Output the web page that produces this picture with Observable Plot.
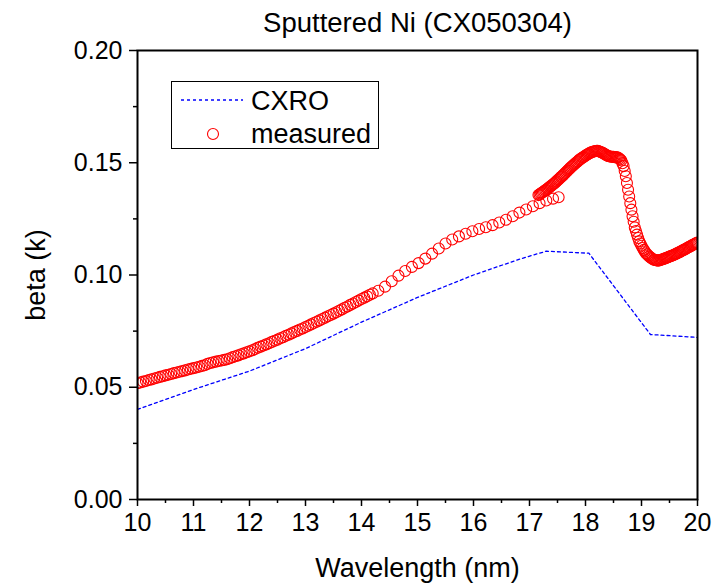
<!DOCTYPE html>
<html>
<head>
<meta charset="utf-8">
<script src="https://cdn.jsdelivr.net/npm/d3@7"></script>
<script src="https://cdn.jsdelivr.net/npm/@observablehq/plot@0.6"></script>
<style>
  body { margin: 0; background: white; }
  #wrap { position: relative; width: 724px; height: 585px; font-family: "Liberation Sans", Arial, sans-serif; }
  #legend { position: absolute; left: 171px; top: 81px; }
</style>
</head>
<body>
<div id="wrap"></div>
<script>
// ---- Data ----
const title = "Sputtered Ni (CX050304)";
const xLabel = "Wavelength (nm)";
const yLabel = "beta (k)";
const seriesNames = ["CXRO", "measured"];

// CXRO tabulated beta
const cxroWl =   [10, 11, 12, 13, 14, 15, 16, 16.84, 17.3, 18.06, 19.16, 20];
const cxroBeta = [0.0401, 0.0490, 0.0572, 0.0672, 0.0790, 0.0900, 0.1000, 0.1072, 0.1106, 0.1097, 0.0735, 0.0722];

// measured, dense short-wavelength set (start 10.00 nm, step 0.05 nm)
const measAStart = 10.0, measAStep = 0.05;
const measABeta = [
  0.0518,0.0521,0.0525,0.0528,0.0532,0.0535,0.0539,0.0542,0.0546,0.0549,
  0.0553,0.0556,0.0559,0.0563,0.0566,0.0569,0.0572,0.0575,0.0579,0.0582,
  0.0585,0.0588,0.0591,0.0595,0.0598,0.0604,0.0608,0.0611,0.0614,0.0617,
  0.0619,0.0622,0.0625,0.0629,0.0634,0.0638,0.0642,0.0647,0.0651,0.0656,
  0.0660,0.0665,0.0670,0.0676,0.0681,0.0686,0.0691,0.0696,0.0702,0.0707,
  0.0712,0.0718,0.0723,0.0729,0.0734,0.0740,0.0746,0.0751,0.0757,0.0762,
  0.0768,0.0774,0.0780,0.0786,0.0792,0.0798,0.0804,0.0810,0.0816,0.0822,
  0.0828,0.0834,0.0841,0.0847,0.0854,0.0860,0.0867,0.0873,0.0880,0.0886,
  0.0893,0.0899,0.0905,0.0912,0.0918
];

// measured, sparse middle set
const measBWl = [14.30,14.42,14.54,14.66,14.78,14.90,15.02,15.14,15.26,15.38,15.50,15.62,15.74,15.86,
                 15.98,16.10,16.22,16.34,16.46,16.58,16.70,16.82,16.94,17.06,17.18,17.30,17.42,17.52];
const measBBeta = [0.0930,0.0948,0.0972,0.0997,0.1018,0.1036,0.1053,0.1073,0.1095,0.1118,0.1140,0.1158,0.1172,0.1184,
                   0.1195,0.1205,0.1213,0.1222,0.1234,0.1246,0.1262,0.1278,0.1292,0.1306,0.1320,0.1332,0.1340,0.1346];

// measured, dense long-wavelength set (start 17.16 nm, step 0.02 nm)
const measCStart = 17.16, measCStep = 0.02;
const measCBeta = [
  0.1356,0.1359,0.1363,0.1366,0.1370,0.1373,0.1377,0.1380,0.1384,0.1388,
  0.1392,0.1396,0.1400,0.1404,0.1408,0.1412,0.1417,0.1422,0.1426,0.1431,
  0.1436,0.1440,0.1445,0.1450,0.1455,0.1460,0.1465,0.1470,0.1475,0.1480,
  0.1484,0.1489,0.1493,0.1498,0.1502,0.1506,0.1511,0.1515,0.1518,0.1522,
  0.1525,0.1528,0.1532,0.1535,0.1538,0.1541,0.1544,0.1546,0.1548,0.1550,
  0.1551,0.1552,0.1553,0.1553,0.1551,0.1549,0.1547,0.1545,0.1542,0.1539,
  0.1536,0.1533,0.1530,0.1529,0.1528,0.1527,0.1527,0.1526,0.1525,0.1525,
  0.1524,0.1523,0.1519,0.1515,0.1510,0.1498,0.1485,0.1463,0.1440,0.1410,
  0.1380,0.1350,0.1320,0.1291,0.1262,0.1237,0.1212,0.1196,0.1180,0.1165,
  0.1150,0.1140,0.1130,0.1120,0.1112,0.1105,0.1097,0.1092,0.1087,0.1082,
  0.1078,0.1075,0.1071,0.1068,0.1067,0.1066,0.1065,0.1064,0.1066,0.1067,
  0.1069,0.1070,0.1072,0.1074,0.1076,0.1078,0.1080,0.1082,0.1084,0.1086,
  0.1088,0.1090,0.1092,0.1095,0.1097,0.1100,0.1102,0.1105,0.1108,0.1110,
  0.1113,0.1115,0.1118,0.1121,0.1124,0.1126,0.1129,0.1132,0.1135,0.1137,
  0.1140,0.1142,0.1145
];

const xTicks = [10, 11, 12, 13, 14, 15, 16, 17, 18, 19, 20];
const xMinor = [10.5, 11.5, 12.5, 13.5, 14.5, 15.5, 16.5, 17.5, 18.5, 19.5];
const yTicks = [0, 0.05, 0.10, 0.15, 0.20];
const yMinor = [0.025, 0.075, 0.125, 0.175];

// ---- Build tables ----
const cxro = cxroWl.map((wl, i) => ({wl, beta: cxroBeta[i]}));
const measured = [
  ...measABeta.map((beta, i) => ({wl: measAStart + i * measAStep, beta})),
  ...measBWl.map((wl, i) => ({wl, beta: measBBeta[i]})),
  ...measCBeta.map((beta, i) => ({wl: measCStart + i * measCStep, beta}))
];

const font = "'Liberation Sans', Arial, sans-serif";

const chart = Plot.plot({
  width: 724,
  height: 585,
  marginLeft: 137,
  marginRight: 27,
  marginTop: 50,
  marginBottom: 86,
  style: {fontFamily: font, fontSize: "25px", background: "white", color: "black"},
  x: {domain: [10, 20], label: null},
  y: {domain: [0, 0.2], label: null},
  marks: [
    Plot.line(cxro, {x: "wl", y: "beta", stroke: "#0000ff", strokeWidth: 1.3, strokeDasharray: "3,3", clip: true}),
    Plot.dot(measured, {x: "wl", y: "beta", r: 5.5, stroke: "#ff0000", strokeWidth: 1.1, fill: "none", clip: true}),
    Plot.frame({stroke: "black", strokeWidth: 2}),
    Plot.axisX(xTicks, {tickSize: 7, tickPadding: 7, strokeWidth: 1.5, tickFormat: d => String(d), label: null, fontSize: 25}),
    Plot.axisX(xMinor, {tickSize: 4, strokeWidth: 1.5, tickFormat: () => "", label: null}),
    Plot.axisY(yTicks, {tickSize: 8, tickPadding: 7, strokeWidth: 1.5, tickFormat: d3.format(".2f"), label: null, fontSize: 25}),
    Plot.axisY(yMinor, {tickSize: 4, strokeWidth: 1.5, tickFormat: () => "", label: null}),
    Plot.text([title], {frameAnchor: "top", dy: -27, lineAnchor: "middle", textAnchor: "middle", fontSize: 27.5, fill: "black"}),
    Plot.text([xLabel], {frameAnchor: "bottom", dy: 69, lineAnchor: "middle", textAnchor: "middle", fontSize: 27, fill: "black"}),
    Plot.text([yLabel], {frameAnchor: "left", dx: -101, rotate: -90, lineAnchor: "middle", textAnchor: "middle", fontSize: 27, fill: "black"})
  ]
});

const wrap = document.getElementById("wrap");
wrap.appendChild(chart);

// Legend box overlay
const ns = "http://www.w3.org/2000/svg";
const leg = document.createElementNS(ns, "svg");
leg.setAttribute("id", "legend");
leg.setAttribute("width", 209);
leg.setAttribute("height", 69);
leg.innerHTML = `
  <rect x="0.5" y="0.5" width="207" height="67" fill="white" stroke="black" stroke-width="1"/>
  <line x1="10" y1="19" x2="72" y2="19" stroke="#0000ff" stroke-width="1.3" stroke-dasharray="3,3"/>
  <circle cx="42" cy="53" r="5.5" fill="none" stroke="#ff0000" stroke-width="1.1"/>
  <text x="80" y="28.5" font-family="${font}" font-size="27" fill="black">${seriesNames[0]}</text>
  <text x="80" y="61.5" font-family="${font}" font-size="27" fill="black">${seriesNames[1]}</text>
`;
wrap.appendChild(leg);
</script>
</body>
</html>
